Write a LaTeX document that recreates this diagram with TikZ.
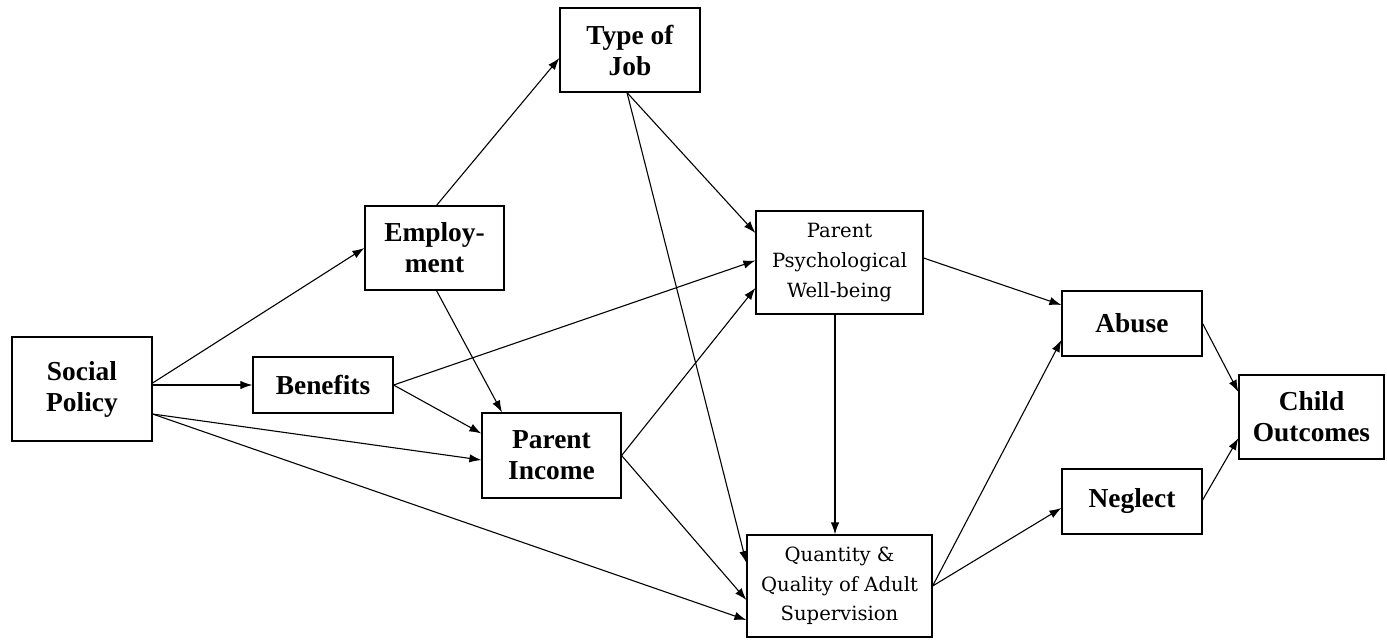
\documentclass[tikz,border=0pt]{standalone}
\usepackage{fontspec}
\setmainfont{Liberation Serif}
\newfontfamily\plainserif{DejaVu Serif}
\usepackage{tikz}
\usetikzlibrary{positioning,arrows.meta,shapes}
\tikzset {
    style bold/.style={
        fill=white,
        draw=black,
        line width=0.6pt,
        rectangle, % Set the shape as a rectangle
        inner sep=0pt,
        font=\fontsize{13.7}{15.5}\selectfont\bfseries,
        align=center,
    },
    style plain/.style={
        fill=white,
        draw=black,
        line width=0.6pt,
        rectangle, % Set the shape as a rectangle
        inner sep=0pt,
        font=\plainserif\fontsize{9.8}{14.8}\selectfont,
        align=center,
    },
    style link/.style={
        draw=black,
        line width=0.55pt,
        -{Latex[length=6pt,width=4.2pt]},
    },
}
\begin{document}
\begin{tikzpicture}[x=0.5pt, y=-0.5pt]
        \useasboundingbox (0,0) rectangle (1387,639);

        % boxes
        \node[style bold, minimum width=70pt, minimum height=52pt] (sp) at (82,389) {Social\\Policy};
        \node[style bold, minimum width=70pt, minimum height=28pt] (ben) at (323,385) {Benefits};
        \node[style bold, minimum width=69.5pt, minimum height=42pt] (emp) at (434.5,248) {Employ-\\ment};
        \node[style bold, minimum width=70pt, minimum height=42pt] (toj) at (630,50) {Type of\\Job};
        \node[style bold, minimum width=69.5pt, minimum height=42.5pt] (inc) at (551.5,455.5) {Parent\\Income};
        \node[style plain, minimum width=83.5pt, minimum height=51.5pt] (psy) at (839.5,262.5) {Parent\\Psychological\\Well-being};
        \node[style plain, minimum width=92.5pt, minimum height=51pt] (sup) at (839.5,586) {Quantity \&\\Quality of Adult\\Supervision};
        \node[style bold, minimum width=70pt, minimum height=32.5pt] (abu) at (1132,323.5) {Abuse};
        \node[style bold, minimum width=70pt, minimum height=32.5pt] (neg) at (1132,501.5) {Neglect};
        \node[style bold, minimum width=72.5pt, minimum height=42pt] (co) at (1311.5,417) {Child\\Outcomes};

        % links
        \draw[style link] ([yshift=3pt]sp.east) -- (emp.west);
        \draw[style link] (sp.east |- ben.west) -- (ben.west);
        \draw[style link] ([yshift=-12.5pt]sp.east) -- ([yshift=-2.25pt]inc.west);
        \draw[style link] ([yshift=-12.5pt]sp.east) -- ([yshift=-17pt]sup.west);
        \draw[style link] (ben.east) -- ([yshift=1pt]psy.west);
        \draw[style link] (ben.east) -- ([yshift=11pt]inc.west);
        \draw[style link] ([xshift=1pt]emp.north) -- ([yshift=-4pt]toj.west);
        \draw[style link] ([xshift=1pt]emp.south) -- ([xshift=-24.75pt]inc.north);
        \draw[style link] ([xshift=-1.5pt]toj.south) -- ([yshift=14.75pt]psy.west);
        \draw[style link] ([xshift=-1.5pt]toj.south) -- ([yshift=11.5pt]sup.west);
        \draw[style link] (inc.east) -- ([yshift=-12.75pt]psy.west);
        \draw[style link] (inc.east) -- ([yshift=-7pt]sup.west);
        \draw[style link] ([xshift=-2.25pt]psy.south) -- ([xshift=-2.25pt]sup.north);
        \draw[style link] ([yshift=2.25pt]psy.east) -- ([yshift=9.25pt]abu.west);
        \draw[style link] (sup.east) -- ([yshift=-8.25pt]abu.west);
        \draw[style link] (sup.east) -- ([yshift=-3.25pt]neg.west);
        \draw[style link] (abu.east) -- ([yshift=12.5pt]co.west);
        \draw[style link] ([yshift=0.75pt]neg.east) -- ([yshift=-10.5pt]co.west);

    \end{tikzpicture}
\end{document}
